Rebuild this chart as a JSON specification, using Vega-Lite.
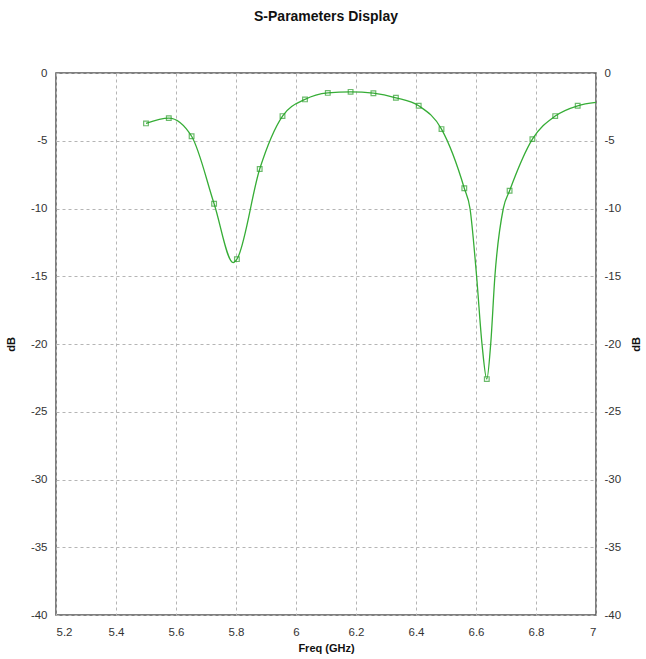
{
  "$schema": "https://vega.github.io/schema/vega-lite/v6.json",
  "autosize": {"type": "none"},
  "width": 540,
  "height": 542,
  "padding": {"left": 56, "top": 73, "right": 50, "bottom": 44},
  "background": "white",
  "title": {"text": "S-Parameters Display", "fontSize": 14, "font": "Liberation Sans", "fontWeight": "bold", "color": "#111", "anchor": "middle", "offset": 43},
  "config": {
    "view": {"stroke": "#555", "strokeWidth": 1.5},
    "axis": {"labelFont": "Liberation Sans", "labelFontSize": 11.5, "labelColor": "#333", "titleFont": "Liberation Sans", "titleFontSize": 11, "titleFontWeight": "bold", "titleColor": "#111", "domain": false, "ticks": false, "gridColor": "#b5b5b5", "gridDash": [3, 3], "gridWidth": 1}
  },
  "datasets": {
    "curve": [
      {"f": 5.5, "db": -3.72}, {"f": 5.576, "db": -3.33}, {"f": 5.652, "db": -4.67}, {"f": 5.727, "db": -9.65},
      {"f": 5.791, "db": -14.0}, {"f": 5.803, "db": -13.74}, {"f": 5.879, "db": -7.09}, {"f": 5.955, "db": -3.18},
      {"f": 6.03, "db": -1.95}, {"f": 6.106, "db": -1.47}, {"f": 6.182, "db": -1.39}, {"f": 6.258, "db": -1.49},
      {"f": 6.333, "db": -1.83}, {"f": 6.409, "db": -2.42}, {"f": 6.485, "db": -4.14}, {"f": 6.561, "db": -8.51},
      {"f": 6.58, "db": -10.0}, {"f": 6.602, "db": -15.0}, {"f": 6.62, "db": -20.0}, {"f": 6.636, "db": -22.59},
      {"f": 6.649, "db": -20.0}, {"f": 6.663, "db": -15.0}, {"f": 6.691, "db": -10.0}, {"f": 6.712, "db": -8.69},
      {"f": 6.788, "db": -4.88}, {"f": 6.864, "db": -3.18}, {"f": 6.939, "db": -2.42}, {"f": 7.0, "db": -2.17}
    ],
    "markers": [
      {"f": 5.5, "db": -3.72}, {"f": 5.576, "db": -3.33}, {"f": 5.652, "db": -4.67}, {"f": 5.727, "db": -9.65},
      {"f": 5.803, "db": -13.74}, {"f": 5.879, "db": -7.09}, {"f": 5.955, "db": -3.18}, {"f": 6.03, "db": -1.95},
      {"f": 6.106, "db": -1.47}, {"f": 6.182, "db": -1.39}, {"f": 6.258, "db": -1.49}, {"f": 6.333, "db": -1.83},
      {"f": 6.409, "db": -2.42}, {"f": 6.485, "db": -4.14}, {"f": 6.561, "db": -8.51}, {"f": 6.636, "db": -22.59},
      {"f": 6.712, "db": -8.69}, {"f": 6.788, "db": -4.88}, {"f": 6.864, "db": -3.18}, {"f": 6.939, "db": -2.42}
    ]
  },
  "encoding": {
    "x": {"field": "f", "type": "quantitative", "scale": {"domain": [5.2, 7], "nice": false, "zero": false},
      "axis": {"title": "Freq (GHz)", "values": [5.2, 5.4, 5.6, 5.8, 6, 6.2, 6.4, 6.6, 6.8, 7], "format": "~g", "labelPadding": 11, "titlePadding": 5}}
  },
  "layer": [
    {
      "data": {"name": "curve"},
      "mark": {"type": "line", "interpolate": "monotone", "color": "#36ad36", "strokeWidth": 1.3},
      "encoding": {
        "y": {"field": "db", "type": "quantitative", "scale": {"domain": [-40, 0], "nice": false, "zero": false},
          "axis": {"title": "dB", "orient": "left", "values": [-40, -35, -30, -25, -20, -15, -10, -5, 0], "labelExpr": "replace(datum.label, '−', '-')", "labelPadding": 9, "titleX": -40, "titleY": 271, "titleAngle": -90}}
      }
    },
    {
      "data": {"name": "markers"},
      "mark": {"type": "point", "shape": "square", "filled": false, "color": "#2e9e2e", "size": 22, "strokeWidth": 1.2},
      "encoding": {
        "y": {"field": "db", "type": "quantitative", "scale": {"domain": [-40, 0], "nice": false, "zero": false}, "axis": null}
      }
    },
    {
      "data": {"name": "markers"},
      "mark": {"type": "point", "opacity": 0},
      "encoding": {
        "y": {"field": "db", "type": "quantitative", "scale": {"domain": [-40, 0], "nice": false, "zero": false},
          "axis": {"title": "dB", "orient": "right", "grid": false, "values": [-40, -35, -30, -25, -20, -15, -10, -5, 0], "labelExpr": "replace(datum.label, '−', '-')", "labelPadding": 8, "titleX": 45, "titleY": 271, "titleAngle": -90}}
      }
    }
  ],
  "resolve": {"scale": {"y": "independent"}, "axis": {"y": "independent"}}
}
